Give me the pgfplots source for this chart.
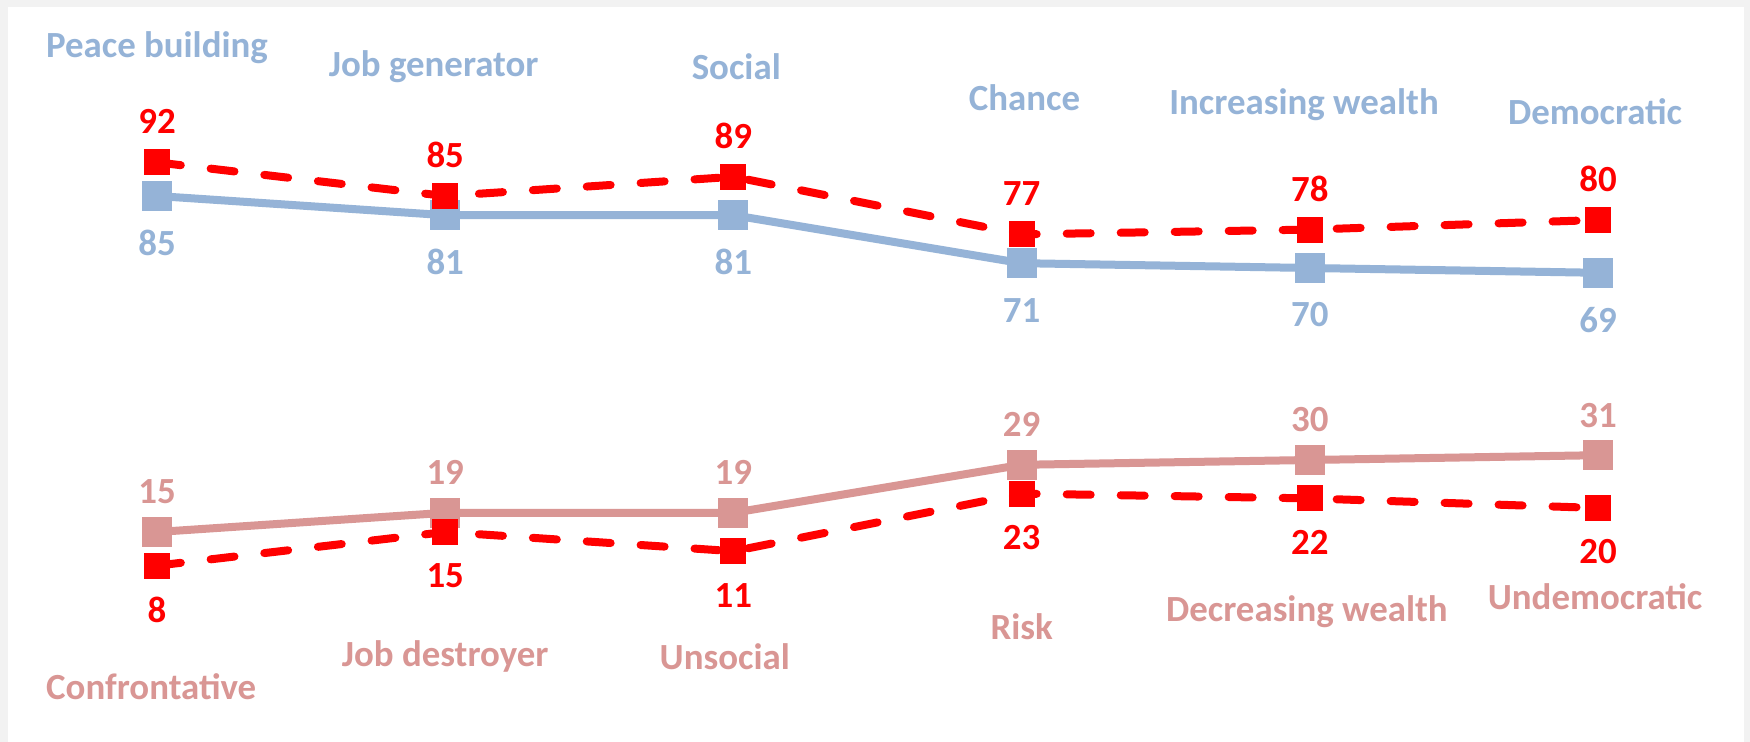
\documentclass[border=0pt]{standalone}
\usepackage{pgfplots}
\pgfplotsset{compat=1.18}
\usepackage{fontspec}
\setmainfont{Carlito}
\definecolor{cblue}{HTML}{95B3D7}
\definecolor{cpink}{HTML}{D99694}
\definecolor{cred}{HTML}{FF0000}
\definecolor{cgray}{HTML}{F2F2F2}
\begin{document}
\begin{tikzpicture}
\fill[cgray] (0,0) rectangle (875bp,371bp);
\fill[white] (4bp,0) rectangle (872bp,367.5bp);
\useasboundingbox (0,0) rectangle (875bp,371bp);
\begin{axis}[
  at={(78.5bp,69bp)}, anchor=south west,
  scale only axis, width=720.5bp, height=240bp,
  xmin=0, xmax=5, ymin=0, ymax=100,
  hide axis, clip=false,
  /pgf/number format/assume math mode=true,
  every node near coord/.append style={anchor=center, font=\fontsize{18.5}{20}\selectfont\bfseries},
]
% blue solid
\addplot[cblue, line width=4bp, mark=square*, mark size=5.5bp, mark options={solid, rounded corners=1.5bp},
  nodes near coords, every node near coord/.append style={yshift=-23.5bp, text=cblue}]
  coordinates {(0,85) (1,81) (2,81) (3,71) (4,70) (5,69)};
% pink solid
\addplot[cpink, line width=4bp, mark=square*, mark size=5.5bp, mark options={solid, rounded corners=1.5bp},
  nodes near coords, every node near coord/.append style={yshift=20bp, text=cpink}]
  coordinates {(0,15) (1,19) (2,19) (3,29) (4,30) (5,31)};
% red dashed upper
\addplot[cred, line width=4bp, line cap=round, dash pattern=on 12bp off 15bp, mark=square*, mark size=4.5bp, mark options={solid},
  nodes near coords, every node near coord/.append style={yshift=20.5bp, text=cred}]
  coordinates {(0,92) (1,85) (2,89) (3,77) (4,78) (5,80)};
% red dashed lower
\addplot[cred, line width=4bp, line cap=round, dash pattern=on 12bp off 15bp, mark=square*, mark size=4.5bp, mark options={solid},
  nodes near coords, every node near coord/.append style={yshift=-22bp, text=cred}]
  coordinates {(0,8) (1,15) (2,11) (3,23) (4,22) (5,20)};
% category labels
\begin{scope}[every node/.style={font=\fontsize{18.5}{20}\selectfont\bfseries, anchor=center}]
\node[text=cblue] at (axis cs:0,116) {Peace building};
\node[text=cblue] at (axis cs:0.96,112) {Job generator};
\node[text=cblue] at (axis cs:2.01,112) {Social};
\node[text=cblue] at (axis cs:3.01,105.5) {Chance};
\node[text=cblue] at (axis cs:3.98,104) {Increasing wealth};
\node[text=cblue] at (axis cs:4.99,102.5) {Democratic};
\node[text=cpink] at (axis cs:-0.02,-17.3) {Confrontative};
\node[text=cpink] at (axis cs:1,-11) {Job destroyer};
\node[text=cpink] at (axis cs:1.97,-11) {Unsocial};
\node[text=cpink] at (axis cs:3,-4.8) {Risk};
\node[text=cpink] at (axis cs:3.99,-1.5) {Decreasing wealth};
\node[text=cpink] at (axis cs:4.99,1.5) {Undemocratic};
\end{scope}
\end{axis}
\end{tikzpicture}
\end{document}
